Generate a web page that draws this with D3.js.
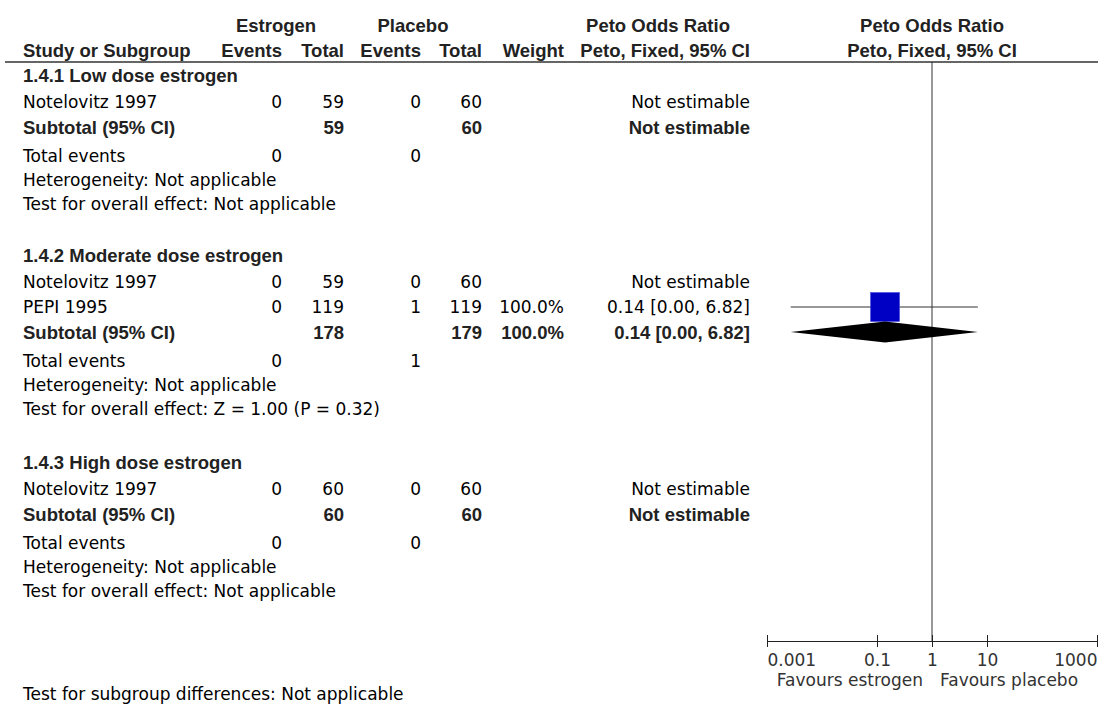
<!DOCTYPE html>
<html>
<head>
<meta charset="utf-8">
<script src="https://cdn.jsdelivr.net/npm/d3@7"></script>
<style>
  html, body { margin: 0; padding: 0; background: #fff; }
  svg { display: block; }
  .reg { font-family: "DejaVu Sans", sans-serif; font-size: 17px; fill: #000; }
  .bold { font-family: "Liberation Sans", Arial, sans-serif; font-weight: bold; font-size: 18.5px; fill: #222; }
  .axis-text { font-family: "DejaVu Sans", sans-serif; font-size: 17px; fill: #333; }
</style>
</head>
<body>
<svg id="chart" width="1098" height="704"></svg>
<script>
// ---- Data -------------------------------------------------------------
const subgroups = ["1.4.1 Low dose estrogen", "1.4.2 Moderate dose estrogen", "1.4.3 High dose estrogen"];

// individual trials (studyGroup = index into subgroups)
const studyGroup     = [0, 1, 1, 2];
const studyNames     = ["Notelovitz 1997", "Notelovitz 1997", "PEPI 1995", "Notelovitz 1997"];
const estrogenEvents = [0, 0, 0, 0];
const estrogenTotals = [59, 59, 119, 60];
const placeboEvents  = [0, 0, 1, 0];
const placeboTotals  = [60, 60, 119, 60];
const studyWeights   = [null, null, 100.0, null];
const studyOR        = [null, null, 0.14, null];
const studyLower     = [null, null, 0.0027, null];
const studyUpper     = [null, null, 6.82, null];

// subgroup pooled rows
const subtotalEstrogen    = [59, 178, 60];
const subtotalPlacebo     = [60, 179, 60];
const subtotalWeights     = [null, 100.0, null];
const subtotalOR          = [null, 0.14, null];
const subtotalLower       = [null, 0.0027, null];
const subtotalUpper       = [null, 6.82, null];
const totalEventsEstrogen = [0, 0, 0];
const totalEventsPlacebo  = [0, 1, 0];
const heterogeneityText   = ["Not applicable", "Not applicable", "Not applicable"];
const overallEffectText   = ["Not applicable", "Z = 1.00 (P = 0.32)", "Not applicable"];
const subgroupDiffText    = "Not applicable";

// axis
const axisTicks    = [0.001, 0.1, 1, 10, 1000];
const tickLabels   = ["0.001", "0.1", "1", "10", "1000"];
const favourLabels = ["Favours estrogen", "Favours placebo"];

// ---- Layout -----------------------------------------------------------
const svg = d3.select("#chart");
const fmtCI = (o, l, u) => `${o.toFixed(2)} [${l.toFixed(2)}, ${u.toFixed(2)}]`;
const fmtW = w => w.toFixed(1) + "%";

const col = {
  study: 23,
  eEvents: 282, eTotal: 344,
  pEvents: 421, pTotal: 482,
  weight: 564, or: 750,
  eHead: 276, pHead: 413, orHead: 658
};

const x = d3.scaleLog().domain([0.001, 1000]).range([767, 1097]);
const nullX = x(1);
const axisY = 641;
const headLineY = 62;
const boxSize = d3.scaleSqrt().domain([0, 100]).range([0, 29]);

// text baseline offset from a row centre
const regOff = 6, boldOff = 6.5;

function txt(cls, xPos, yc, s, anchor) {
  svg.append("text").attr("class", cls)
    .attr("x", xPos).attr("y", yc + (cls === "bold" ? boldOff : regOff))
    .attr("text-anchor", anchor || "start").text(s);
}

// column headers
const head1 = 25, head2 = 50;
txt("bold", col.eHead, head1, "Estrogen", "middle");
txt("bold", col.pHead, head1, "Placebo", "middle");
txt("bold", col.orHead, head1, "Peto Odds Ratio", "middle");
txt("bold", nullX, head1, "Peto Odds Ratio", "middle");
txt("bold", col.study, head2, "Study or Subgroup");
txt("bold", col.eEvents, head2, "Events", "end");
txt("bold", col.eTotal, head2, "Total", "end");
txt("bold", col.pEvents, head2, "Events", "end");
txt("bold", col.pTotal, head2, "Total", "end");
txt("bold", col.weight, head2, "Weight", "end");
txt("bold", col.or, head2, "Peto, Fixed, 95% CI", "end");
txt("bold", nullX, head2, "Peto, Fixed, 95% CI", "middle");

svg.append("line")
  .attr("x1", 5).attr("x2", 1098).attr("y1", headLineY).attr("y2", headLineY)
  .attr("stroke", "#333").attr("stroke-width", 1.5);

// null line
svg.append("line")
  .attr("x1", nullX).attr("x2", nullX).attr("y1", headLineY).attr("y2", axisY)
  .attr("stroke", "#333").attr("stroke-width", 1);

// row geometry per subgroup
const sectionTop = [75, 255, 462];
const firstStudyGap = 27, rowH = 25, totalGap = 29, textGap = 24;

const plot = svg.append("g");

subgroups.forEach((name, g) => {
  let y = sectionTop[g];
  txt("bold", col.study, y, name);
  y += firstStudyGap - rowH;
  studyNames.forEach((s, i) => {
    if (studyGroup[i] !== g) return;
    y += rowH;
    txt("reg", col.study, y, s);
    txt("reg", col.eEvents, y, estrogenEvents[i], "end");
    txt("reg", col.eTotal, y, estrogenTotals[i], "end");
    txt("reg", col.pEvents, y, placeboEvents[i], "end");
    txt("reg", col.pTotal, y, placeboTotals[i], "end");
    if (studyOR[i] == null) {
      txt("reg", col.or, y, "Not estimable", "end");
    } else {
      txt("reg", col.weight, y, fmtW(studyWeights[i]), "end");
      txt("reg", col.or, y, fmtCI(studyOR[i], studyLower[i], studyUpper[i]), "end");
      plot.append("line")
        .attr("x1", x(studyLower[i])).attr("x2", x(studyUpper[i]))
        .attr("y1", y).attr("y2", y)
        .attr("stroke", "#333").attr("stroke-width", 1);
      const b = boxSize(studyWeights[i]);
      plot.append("rect")
        .attr("x", x(studyOR[i]) - b / 2).attr("y", y - b / 2)
        .attr("width", b).attr("height", b)
        .attr("fill", "#0000c4").attr("stroke", "#3a3ae0").attr("stroke-width", 0.5);
    }
  });
  y += rowH;
  txt("bold", col.study, y, "Subtotal (95% CI)");
  txt("bold", col.eTotal, y, subtotalEstrogen[g], "end");
  txt("bold", col.pTotal, y, subtotalPlacebo[g], "end");
  if (subtotalOR[g] == null) {
    txt("bold", col.or, y, "Not estimable", "end");
  } else {
    txt("bold", col.weight, y, fmtW(subtotalWeights[g]), "end");
    txt("bold", col.or, y, fmtCI(subtotalOR[g], subtotalLower[g], subtotalUpper[g]), "end");
    const h = 10.5;
    const pts = [
      [x(subtotalLower[g]), y], [x(subtotalOR[g]), y - h],
      [x(subtotalUpper[g]), y], [x(subtotalOR[g]), y + h]
    ];
    plot.append("polygon").attr("points", pts.map(p => p.join(",")).join(" "))
      .attr("fill", "#000");
  }
  y += totalGap;
  txt("reg", col.study, y, "Total events");
  txt("reg", col.eEvents, y, totalEventsEstrogen[g], "end");
  txt("reg", col.pEvents, y, totalEventsPlacebo[g], "end");
  y += textGap;
  txt("reg", col.study, y, "Heterogeneity: " + heterogeneityText[g]);
  y += textGap;
  txt("reg", col.study, y, "Test for overall effect: " + overallEffectText[g]);
});

// bottom axis
const axis = d3.axisBottom(x).tickValues(axisTicks).tickFormat((d, i) => tickLabels[i])
  .tickSize(6).tickSizeOuter(0);
const ax = svg.append("g").attr("transform", `translate(0,${axisY})`).call(axis);
ax.select(".domain").attr("stroke", "#222").attr("stroke-width", 1.2);
ax.selectAll(".tick line").attr("stroke", "#222").attr("y1", -6).attr("y2", 6);
ax.selectAll(".tick text")
  .attr("class", "axis-text").attr("font-family", null).attr("font-size", null)
  .attr("fill", null).attr("y", 0).attr("dy", 25)
  .attr("text-anchor", (d, i) => i === 0 ? "start" : (i === axisTicks.length - 1 ? "end" : "middle"));

svg.append("text").attr("class", "axis-text").attr("x", nullX - 9).attr("y", 686)
  .attr("text-anchor", "end").text(favourLabels[0]);
svg.append("text").attr("class", "axis-text").attr("x", nullX + 8).attr("y", 686)
  .attr("text-anchor", "start").text(favourLabels[1]);

txt("reg", col.study, 694, "Test for subgroup differences: " + subgroupDiffText);
</script>
</body>
</html>
